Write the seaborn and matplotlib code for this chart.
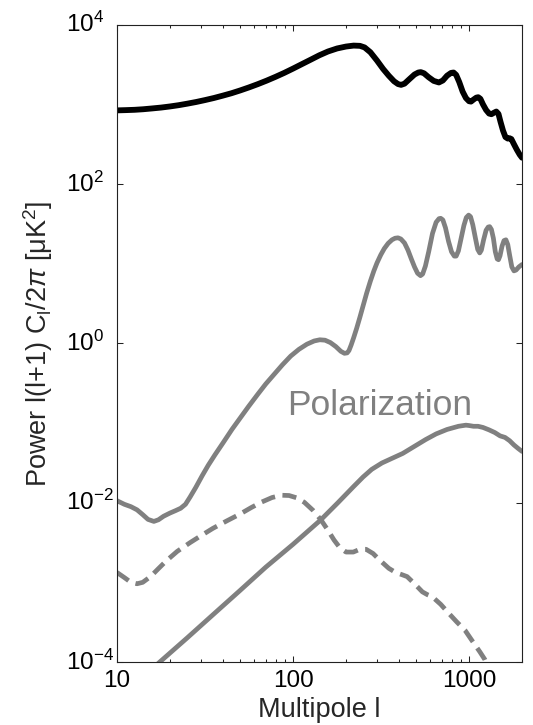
import matplotlib
matplotlib.use("Agg")
import matplotlib.pyplot as plt
from matplotlib.ticker import FixedLocator, FixedFormatter, NullLocator, LogLocator
import numpy as np
import seaborn as sns

# Temperature power spectrum
ell_tt = [10, 11.2, 12.6, 14.1, 15.8, 17.8, 20, 22.4, 25.1, 28.2, 31.6, 35.5, 39.8,
          44.7, 50.1, 56.2, 63.1, 70.8, 79.4, 89.1, 100, 112, 126, 141, 158, 178,
          200, 221, 240, 255, 275, 300, 325, 350, 375, 395, 411, 430, 460, 490,
          515, 532, 555, 590, 630, 674, 710, 750, 790, 817, 845, 880, 920, 960,
          1000, 1026, 1060, 1100, 1128, 1160, 1200, 1250, 1300, 1340, 1385, 1429,
          1470, 1510, 1560, 1610, 1660, 1700, 1740, 1800, 1870, 1940, 2000]
pow_tt = [841, 847, 855, 869, 889, 912, 942, 977, 1021, 1072, 1132, 1202, 1285,
          1380, 1496, 1633, 1795, 1986, 2213, 2483, 2812, 3192, 3639, 4130, 4613,
          5035, 5321, 5470, 5430, 5190, 4520, 3550, 2786, 2291, 1950, 1799, 1758,
          1820, 2089, 2371, 2512, 2541, 2455, 2188, 1972, 1884, 1995, 2291, 2483,
          2512, 2344, 1905, 1445, 1202, 1096, 1084, 1148, 1216, 1230, 1175, 1000,
          851, 767, 753, 785, 813, 759, 603, 468, 389, 372, 376, 367, 316, 269,
          234, 214]

# E-mode polarization spectrum
ell_ee = [10, 11, 12, 13, 14, 15, 16.2, 17.2, 18.4, 20, 21.5, 23, 24.5, 26, 28,
          30.5, 33, 36, 40, 45, 50, 56, 63, 70, 78, 87, 97, 108, 120, 132, 142,
          152, 163, 175, 187, 196, 203, 208, 214, 221, 230, 240, 250, 262, 275,
          288, 300, 315, 330, 347, 365, 380, 395, 410, 430, 450, 470, 490, 510,
          530, 545, 565, 590, 620, 650, 675, 690, 710, 735, 765, 795, 825, 845,
          870, 900, 935, 965, 995, 1020, 1050, 1085, 1120, 1150, 1175, 1210, 1250,
          1285, 1310, 1340, 1375, 1410, 1445, 1470, 1500, 1540, 1580, 1620, 1660,
          1700, 1750, 1800, 1850, 1920, 2000]
pow_ee = [0.01059, 0.00955, 0.00891, 0.00813, 0.00708, 0.00617, 0.00582, 0.00610,
          0.00676, 0.00741, 0.00794, 0.00851, 0.00955, 0.01175, 0.01549, 0.02188,
          0.02951, 0.0398, 0.0562, 0.0832, 0.1148, 0.1622, 0.229, 0.309, 0.407,
          0.537, 0.692, 0.841, 0.977, 1.072, 1.109, 1.096, 1.023, 0.912, 0.794,
          0.750, 0.759, 0.813, 0.955, 1.175, 1.549, 2.138, 2.951, 4.266, 6.026,
          8.128, 10.23, 12.88, 15.49, 17.99, 19.95, 20.89, 21.13, 20.42, 18.20,
          14.79, 11.48, 9.12, 7.59, 7.08, 7.41, 9.33, 14.13, 23.99, 33.11, 36.73,
          37.15, 35.48, 28.18, 19.05, 14.13, 12.45, 12.45, 14.45, 20.42, 30.20,
          38.02, 40.74, 38.90, 30.90, 21.38, 15.14, 13.65, 14.79, 19.95, 26.30,
          28.84, 29.17, 26.92, 20.89, 14.13, 11.48, 11.22, 12.59, 16.60, 19.50,
          19.95, 17.38, 12.88, 9.12, 8.13, 8.32, 9.12, 9.77]

# B-mode from gravitational lensing
ell_bl = [15, 17.5, 25, 35, 50, 70, 100, 144, 180, 220, 250, 280, 320, 370, 420,
          490, 567, 650, 750, 871, 960, 1000, 1060, 1125, 1200, 1300, 1400, 1500,
          1600, 1700, 1800, 1900, 2000]
pow_bl = [7.3e-5, 1.0e-4, 2.0e-4, 3.9e-4, 7.9e-4, 1.55e-3, 3.0e-3, 6.1e-3, 0.0100,
          0.0158, 0.0210, 0.0262, 0.0315, 0.0365, 0.0415, 0.051, 0.062, 0.073,
          0.083, 0.091, 0.094, 0.093, 0.091, 0.091, 0.088, 0.082, 0.076, 0.069,
          0.066, 0.060, 0.053, 0.048, 0.044]

# B-mode from primordial gravitational waves
ell_bt = [10, 11, 12, 13, 14, 15.5, 17, 19, 22, 26, 30, 35, 42, 50, 58, 66.5, 76,
          86, 95, 105, 116, 130, 144, 157, 171, 185, 200, 220, 240, 260, 285, 311,
          350, 385, 415, 445, 490, 543, 580, 618, 690, 766, 850, 949, 1050, 1150,
          1228, 1300]
pow_bt = [1.33e-3, 1.15e-3, 1.0e-3, 9.6e-4, 1.0e-3, 1.18e-3, 1.45e-3, 1.85e-3,
          2.45e-3, 3.15e-3, 3.85e-3, 4.75e-3, 5.9e-3, 7.2e-3, 8.7e-3, 0.0102,
          0.0116, 0.0124, 0.0123, 0.0115, 0.0101, 0.0080, 0.0061, 0.0046, 0.0034,
          0.0027, 0.0024, 0.0024, 0.0026, 0.0026, 0.0023, 0.0019, 0.0015, 0.00132,
          0.00125, 0.00118, 9.6e-4, 7.6e-4, 7.0e-4, 6.6e-4, 5.3e-4, 4.1e-4, 3.2e-4,
          2.5e-4, 1.8e-4, 1.35e-4, 1.08e-4, 8.0e-5]

x_ticks = [10, 100, 1000]
x_tick_labels = ["10", "100", "1000"]
y_ticks = [1e-4, 1e-2, 1e0, 1e2, 1e4]
y_tick_labels = [r"$\mathregular{10^{-4}}$", r"$\mathregular{10^{-2}}$",
                 r"$\mathregular{10^{0}}$", r"$\mathregular{10^{2}}$",
                 r"$\mathregular{10^{4}}$"]

sns.set_style("ticks")
plt.rcParams["font.family"] = ["Liberation Sans", "DejaVu Sans"]
plt.rcParams["mathtext.fontset"] = "custom"
plt.rcParams["mathtext.rm"] = "Liberation Sans"
plt.rcParams["mathtext.it"] = "Liberation Sans:italic"
plt.rcParams["mathtext.bf"] = "Liberation Sans:bold"

GRAY = "#808080"

fig = plt.figure(figsize=(5.33, 7.25), dpi=100)
ax = fig.add_axes([0.2195, 0.0869, 0.7599, 0.879])
ax.set_xscale("log")
ax.set_yscale("log")

line_kw = dict(solid_joinstyle="round", solid_capstyle="round",
               dash_capstyle="butt", dash_joinstyle="round")

sns.lineplot(x=ell_tt, y=pow_tt, ax=ax, color="black", lw=4.2, errorbar=None,
             sort=False, **line_kw)
sns.lineplot(x=ell_ee, y=pow_ee, ax=ax, color=GRAY, lw=3.4, errorbar=None,
             sort=False, **line_kw)
sns.lineplot(x=ell_bl, y=pow_bl, ax=ax, color=GRAY, lw=3.4, errorbar=None,
             sort=False, **line_kw)
sns.lineplot(x=ell_bt, y=pow_bt, ax=ax, color=GRAY, lw=3.4, errorbar=None,
             sort=False, linestyle=(0, (3.0, 1.6)), **line_kw)

ax.set_xlim(10, 2000)
ax.set_ylim(1e-4, 1e4)

ax.xaxis.set_major_locator(FixedLocator(x_ticks))
ax.xaxis.set_major_formatter(FixedFormatter(x_tick_labels))
ax.xaxis.set_minor_locator(LogLocator(base=10, subs=np.arange(2, 10)))
ax.yaxis.set_major_locator(FixedLocator(y_ticks))
ax.yaxis.set_major_formatter(FixedFormatter(y_tick_labels))
ax.yaxis.set_minor_locator(NullLocator())

ax.tick_params(which="both", direction="in", top=True, right=True,
               colors="#222222", width=0.75, labelcolor="black")
ax.tick_params(which="major", length=4.5, labelsize=17.5)
ax.tick_params(which="minor", length=2.4)
ax.tick_params(axis="x", which="major", pad=6.0)
ax.tick_params(axis="y", which="major", pad=37)
for lbl in ax.get_yticklabels():
    lbl.set_horizontalalignment("left")
    lbl.set_verticalalignment("center")

for sp in ax.spines.values():
    sp.set_visible(True)
    sp.set_linewidth(0.8)
    sp.set_color("#222222")

ax.set_xlabel("Multipole l", fontsize=19.5)
ax.set_ylabel(r"Power l(l+1) C$_\mathregular{l}$/2$\pi$ [$\mathregular{\mu}$K$^\mathregular{2}$]",
              fontsize=19.5)
ax.xaxis.set_label_coords(0.5, -0.055)
ax.yaxis.set_label_coords(-0.152, 0.5)

ax.text(92.5, 0.127, "Polarization", color=GRAY, fontsize=25.5,
        ha="left", va="baseline")

fig.savefig("out.png", dpi=100)
